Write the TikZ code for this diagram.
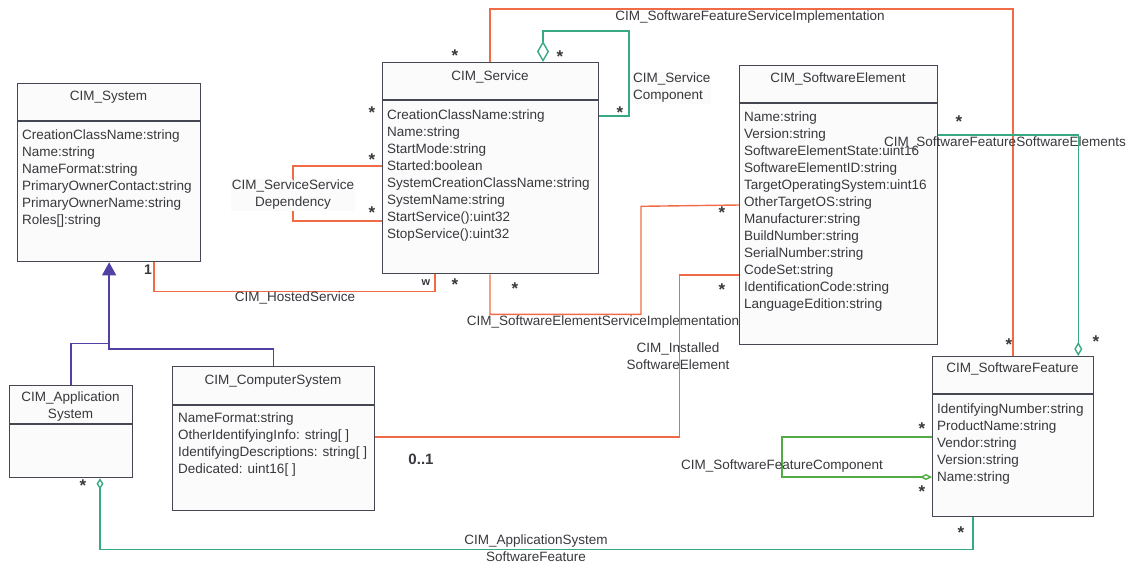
\documentclass[tikz,border=0pt]{standalone}
\usepackage{fontspec}
\setmainfont{Liberation Sans}
\usetikzlibrary{arrows.meta}
\definecolor{assocorange}{rgb}{0.941,0.420,0.275}
\definecolor{aggteal}{rgb}{0.220,0.667,0.510}
\definecolor{genpurple}{rgb}{0.318,0.255,0.643}
\definecolor{compgreen}{rgb}{0.322,0.671,0.267}
\definecolor{boxgray}{rgb}{0.27,0.28,0.32}
\definecolor{txtgray}{rgb}{0.22,0.22,0.24}
\definecolor{boxfill}{rgb}{0.984,0.984,0.984}

\begin{document}
\begin{tikzpicture}[x=1pt,y=1pt,yscale=-1,
  every node/.style={text=txtgray,font=\fontsize{13.5}{17}\selectfont},
  classbox/.style={draw=boxgray,fill=boxfill,line width=1.3pt,anchor=north west,inner sep=0pt},
  hdr/.style={draw=boxgray,line width=1.3pt},
  ttl/.style={inner sep=0pt,align=center},
  attrs/.style={inner sep=0pt,anchor=north west,align=left},
  assoc/.style={draw=assocorange,line width=1.4pt},
  agg/.style={draw=aggteal,line width=1.4pt},
  gen/.style={draw=genpurple,line width=1.4pt},
  mult/.style={font=\fontsize{17}{17}\selectfont\bfseries,inner sep=0pt},
  rel/.style={inner sep=1pt,align=center}]
\useasboundingbox (0,0) rectangle (1128,563);

% classes
\node[classbox,minimum width=183pt,minimum height=178pt] (sys) at (17,83) {};
\draw[hdr] ([yshift=38pt]sys.north west) -- ([yshift=38pt]sys.north east);
\node[ttl] (sys-t) at (108.5,97) {CIM\_System};
\node[attrs] (sys-a) at (22,130) {CreationClassName:string\\Name:string\\NameFormat:string\\PrimaryOwnerContact:string\\PrimaryOwnerName:string\\Roles[]:string};

\node[classbox,minimum width=216pt,minimum height=211pt] (svc) at (382,62) {};
\draw[hdr] ([yshift=38pt]svc.north west) -- ([yshift=38pt]svc.north east);
\node[ttl] (svc-t) at (490,77) {CIM\_Service};
\node[attrs] (svc-a) at (387,110) {CreationClassName:string\\Name:string\\StartMode:string\\Started:boolean\\SystemCreationClassName:string\\SystemName:string\\StartService():uint32\\StopService():uint32};

\node[classbox,minimum width=198pt,minimum height=279pt] (se) at (739,65) {};
\draw[hdr] ([yshift=38pt]se.north west) -- ([yshift=38pt]se.north east);
\node[ttl] (se-t) at (838,79) {CIM\_SoftwareElement};
\node[attrs] (se-a) at (744,112) {Name:string\\Version:string\\SoftwareElementState:uint16\\SoftwareElementID:string\\TargetOperatingSystem:uint16\\OtherTargetOS:string\\Manufacturer:string\\BuildNumber:string\\SerialNumber:string\\CodeSet:string\\IdentificationCode:string\\LanguageEdition:string};

\node[classbox,minimum width=202pt,minimum height=144pt] (cs) at (172,366) {};
\draw[hdr] ([yshift=39pt]cs.north west) -- ([yshift=39pt]cs.north east);
\node[ttl] (cs-t) at (273,381) {CIM\_ComputerSystem};
\node[attrs] (cs-a) at (178,413) {NameFormat:string\\OtherIdentifyingInfo: string[ ]\\IdentifyingDescriptions: string[ ]\\Dedicated: uint16[ ]};

\node[classbox,minimum width=123pt,minimum height=92pt] (app) at (9,385) {};
\draw[hdr] ([yshift=39pt]app.north west) -- ([yshift=39pt]app.north east);
\node[ttl] (app-t) at (70.5,407) {CIM\_Application\\System};

\node[classbox,minimum width=161pt,minimum height=160pt] (sf) at (932,356) {};
\draw[hdr] ([yshift=38pt]sf.north west) -- ([yshift=38pt]sf.north east);
\node[ttl] (sf-t) at (1012.5,369) {CIM\_SoftwareFeature};
\node[attrs] (sf-a) at (937,404) {IdentifyingNumber:string\\ProductName:string\\Vendor:string\\Version:string\\Name:string};

% inheritance
\draw[gen,-{Triangle[length=13pt,width=14pt]}] (cs.north) -- ++(0,-17) -| (sys.south);
\draw[gen] (app.north) |- ([yshift=81pt]sys.south);

% associations
\draw[assoc] ([xshift=108pt]svc.north west) -- ++(0,-53) -| (sf.north);
\draw[assoc] ([yshift=104pt]svc.north west) -- ++(-89,0) |- ([yshift=159pt]svc.north west);
\draw[assoc] ([xshift=137pt]sys.south west) -- ++(0,29) -| ([xshift=53pt]svc.south west);
\draw[assoc] ([xshift=108pt]svc.south west) -- ++(0,40) -| ++(151,-108) -- ([yshift=140pt]se.north west);
\draw[assoc] ([yshift=71pt]cs.north east) -| ++(304,-162) -- ([yshift=210pt]se.north west);

% aggregations
\draw[agg,{Diamond[open,length=21pt,width=12pt]}-] ([xshift=161pt]svc.north west) -- ++(0,-31) -| ++(86,85) -- ([yshift=54pt]svc.north east);
\draw[agg,-{Diamond[open,length=14pt,width=8pt]}] ([yshift=70pt]se.north east) -| ([xshift=-16pt]sf.north east);
\draw[draw=compgreen,line width=1.4pt,-{Diamond[open,length=12pt,width=6pt]}] ([yshift=81pt]sf.north west) -- ++(-150,0) |- ([yshift=121pt]sf.north west);
\draw[agg,{Diamond[open,length=11pt,width=7pt]}-] ([xshift=91pt]app.south west) -- ++(0,71) -| ([xshift=41pt]sf.south west);

% relation labels
\node[rel] (sfsi-l) at (750,17) {CIM\_SoftwareFeatureServiceImplementation};
\node[rel,fill=boxfill,align=left,anchor=west] (sc-l) at (632,88) {CIM\_Service\\Component};
\node[rel,fill=boxfill] (ssd-l) at (293,195) {CIM\_ServiceService\\Dependency};
\node[rel] (hs-l) at (295,298) {CIM\_HostedService};
\node[rel] (sesi-l) at (603,322) {CIM\_SoftwareElementServiceImplementation};
\node[rel] (ise-l) at (678,356) {CIM\_Installed\\SoftwareElement};
\node[rel] (sfse-l) at (1005,143) {CIM\_SoftwareFeatureSoftwareElements};
\node[rel] (sfc-l) at (782,466) {CIM\_SoftwareFeatureComponent};
\node[rel] (asf-l) at (536,548) {CIM\_ApplicationSystem\\SoftwareFeature};

% multiplicities
\node[mult] (m1) at (455,56) {*};
\node[mult] (m2) at (560,57) {*};
\node[mult] (m3) at (620,113) {*};
\node[mult] (m4) at (372,113) {*};
\node[mult] (m5) at (372,160) {*};
\node[mult] (m6) at (372,213) {*};
\node[mult] (m7) at (455,285) {*};
\node[mult] (m8) at (515,289) {*};
\node[mult] (m9) at (722,213) {*};
\node[mult] (m10) at (722,290) {*};
\node[mult] (m11) at (959,122) {*};
\node[mult] (m12) at (1009,345) {*};
\node[mult] (m13) at (1096,342) {*};
\node[mult] (m14) at (922,429) {*};
\node[mult] (m15) at (922,492) {*};
\node[mult] (m16) at (83,486) {*};
\node[mult] (m17) at (961,533) {*};
\node[font=\fontsize{14}{14}\selectfont\bfseries,inner sep=0pt] (m-one) at (148,270) {1};
\node[font=\fontsize{11}{11}\selectfont\bfseries,inner sep=0pt] (m-w) at (426,283) {w};
\node[font=\fontsize{15}{15}\selectfont\bfseries,inner sep=0pt] (m-opt) at (421,459) {0..1};
\end{tikzpicture}
\end{document}
